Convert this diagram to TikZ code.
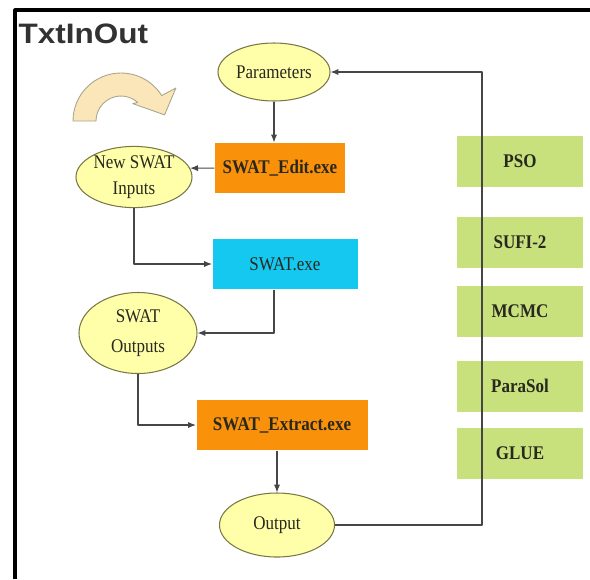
\documentclass[tikz,border=0pt]{standalone}
\usepackage{fontspec}
\usetikzlibrary{shapes.geometric,arrows.meta}
\setmainfont{Liberation Serif}
\newfontfamily\lblfont{Liberation Serif}[FakeStretch=0.88]
\newfontfamily\ttlfont{Liberation Sans}[FakeStretch=1.12]
\definecolor{editfill}{RGB}{250,145,10}
\definecolor{exefill}{RGB}{20,200,240}
\definecolor{algofill}{RGB}{200,225,125}
\definecolor{ovalfill}{RGB}{255,255,170}
\definecolor{ovalline}{RGB}{120,120,70}
\definecolor{linec}{RGB}{70,70,70}
\definecolor{txt}{RGB}{40,40,30}
\definecolor{ttl}{RGB}{50,50,50}
\definecolor{turnfill}{RGB}{250,230,185}
\definecolor{turnline}{RGB}{170,165,140}
\begin{document}
\begin{tikzpicture}[x=0.2mm,y=-0.2mm,line width=0.6pt,line join=round,
    oval/.style={ellipse,draw=ovalline,fill=ovalfill,inner sep=0pt,align=center,
      text=txt,font=\lblfont\fontsize{11}{13}\selectfont},
    prog/.style={rectangle,fill=#1,minimum height=10mm,text=txt,
      font=\lblfont\fontsize{11}{13}\selectfont\bfseries},
    algo/.style={rectangle,fill=algofill,minimum width=25.2mm,minimum height=10.2mm,
      text=txt,font=\lblfont\fontsize{11}{13}\selectfont\bfseries},
    link/.style={draw=linec,-{Latex[length=4.5pt,width=3.5pt]}}]
  \useasboundingbox (0,0) rectangle (590,579);
  \draw[line width=1.8pt] (15,579) -- (15,10) -- (590,10);
  \node[anchor=base west,inner sep=0pt,text=ttl,font=\ttlfont\fontsize{16}{18}\selectfont\bfseries]
    (title) at (18,43) {TxtInOut};
  % the loop of one run
  \node[oval,minimum width=22.4mm,minimum height=11.6mm] (params) at (274,72) {Parameters};
  \node[prog=editfill,minimum width=26mm] (edit) at (280,168) {SWAT\_Edit.exe};
  \node[oval,minimum width=23.2mm,minimum height=12.2mm] (newin) at (134,177) {New SWAT\\[2pt]Inputs};
  \node[prog=exefill,minimum width=29mm,font=\lblfont\fontsize{11}{13}\selectfont] (swat) at (285,264) {SWAT.exe};
  \node[oval,minimum width=23.6mm,minimum height=16.2mm] (swout) at (138,333) {SWAT\\[4pt]Outputs};
  \node[prog=editfill,minimum width=34.2mm] (extract) at (282,425) {SWAT\_Extract.exe};
  \node[oval,minimum width=23mm,minimum height=12.8mm] (output) at (277,525) {Output};
  % algorithms
  \foreach \name/\lbl/\y in {pso/PSO/161,sufi/SUFI-2/242,mcmc/MCMC/311,parasol/ParaSol/386,glue/GLUE/453}
    \node[algo] (\name) at (520,\y) {\lbl};
  % curved arrow
  \coordinate (c) at (121,121);
  \filldraw[fill=turnfill,draw=turnline,line width=0.5pt] ([shift={(180:48)}]c)
    arc[start angle=180,end angle=328,radius=48] -- ([shift={(329:64)}]c)
    -- ([shift={(352:44)}]c) -- ([shift={(304:21)}]c) -- ([shift={(312:25)}]c)
    arc[start angle=312,end angle=180,radius=25] -- cycle;
  \draw[link] (params) -- (params |- edit.north);
  \draw[link] (edit) -- (newin.9);
  \draw[link] (newin) |- (swat);
  \draw[link] (swat.south -| params) |- (swout);
  \draw[link] (swout) |- (extract);
  \draw[link] (extract.south -| output) -- (output);
  \coordinate (turn) at (482,72);
  \draw[link] (output) -| (turn) -- (params);
\end{tikzpicture}
\end{document}
